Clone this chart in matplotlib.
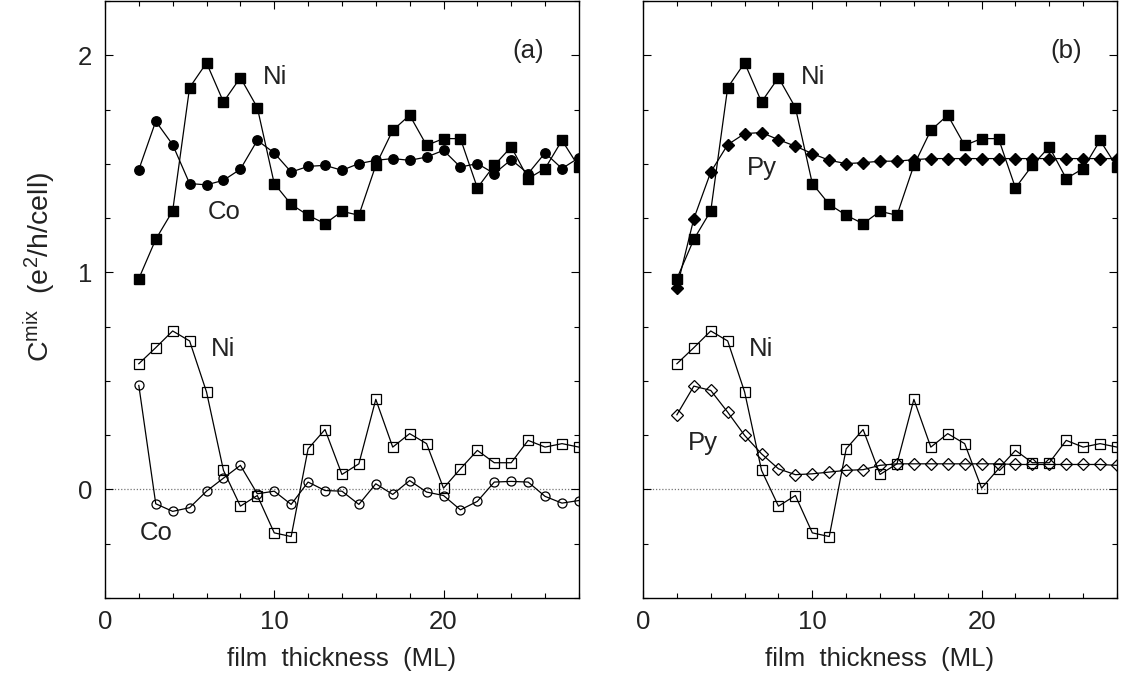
import matplotlib
matplotlib.use("Agg")
import matplotlib.pyplot as plt
from matplotlib.ticker import MultipleLocator
import numpy as np

plt.rcParams['font.family'] = ['Liberation Sans', 'DejaVu Sans']
plt.rcParams['mathtext.default'] = 'regular'

# film thickness in monolayers
thickness = list(range(2, 29))

# total (filled) and minority-type (open) mixing conductance
ni_total = [0.971, 1.152, 1.283, 1.851, 1.965, 1.785, 1.897, 1.759, 1.409, 1.313,
            1.263, 1.224, 1.281, 1.263, 1.493, 1.654, 1.724, 1.585, 1.616, 1.616,
            1.389, 1.493, 1.578, 1.432, 1.478, 1.608, 1.485]
co_total = [1.473, 1.696, 1.588, 1.409, 1.403, 1.424, 1.475, 1.608, 1.550, 1.462,
            1.488, 1.493, 1.470, 1.501, 1.516, 1.524, 1.516, 1.531, 1.562, 1.485,
            1.501, 1.455, 1.519, 1.455, 1.550, 1.478, 1.528]
py_total = [0.929, 1.247, 1.462, 1.588, 1.639, 1.644, 1.611, 1.581, 1.547, 1.516,
            1.501, 1.505, 1.512, 1.512, 1.519, 1.524, 1.524, 1.524, 1.524, 1.524,
            1.524, 1.524, 1.524, 1.524, 1.524, 1.524, 1.524]

ni_open = [0.579, 0.653, 0.730, 0.684, 0.449, 0.088, -0.077, -0.028, -0.200, -0.217,
           0.187, 0.276, 0.069, 0.118, 0.415, 0.195, 0.257, 0.211, 0.006, 0.095,
           0.180, 0.123, 0.123, 0.226, 0.195, 0.211, 0.195]
co_open = [0.479, -0.066, -0.101, -0.084, -0.008, 0.052, 0.111, -0.020, -0.008, -0.069,
           0.034, -0.005, -0.008, -0.069, 0.026, -0.023, 0.041, -0.012, -0.028, -0.094,
           -0.055, 0.034, 0.037, 0.034, -0.032, -0.063, -0.051]
py_open = [0.344, 0.476, 0.456, 0.356, 0.249, 0.164, 0.095, 0.068, 0.072, 0.080,
           0.088, 0.091, 0.111, 0.118, 0.118, 0.118, 0.118, 0.118, 0.118, 0.118,
           0.115, 0.115, 0.115, 0.115, 0.115, 0.115, 0.111]

fig = plt.figure(figsize=(11.25, 6.93), dpi=100)
ax_a = fig.add_axes([0.0933, 0.1371, 0.4213, 0.8615])
ax_b = fig.add_axes([0.5716, 0.1371, 0.4213, 0.8615])

line_kw = dict(color='black', lw=0.9)
FS = 18.5
TXT = '#222222'


def style(ax):
    ax.set_xlim(0, 28)
    ax.set_ylim(-0.5, 2.25)
    ax.xaxis.set_major_locator(MultipleLocator(10))
    ax.xaxis.set_minor_locator(MultipleLocator(2))
    ax.yaxis.set_major_locator(MultipleLocator(1))
    ax.yaxis.set_minor_locator(MultipleLocator(0.25))
    ax.tick_params(which='both', direction='in', top=True, right=True,
                   labelsize=FS, width=0.8, pad=9, labelcolor=TXT)
    ax.tick_params(which='major', length=6)
    ax.tick_params(which='minor', length=3.5)
    for s in ax.spines.values():
        s.set_linewidth(1.0)
    ax.axhline(0, color='#777777', lw=0.9, ls=(0, (1, 1.5)), zorder=1)
    ax.set_xlabel('film  thickness  (ML)', fontsize=FS, labelpad=9, color=TXT)


def label(ax, x, y, s):
    ax.text(x, y, s, fontsize=FS, ha='center', va='center', color=TXT)


# panel (a): Ni and Co
style(ax_a)
ax_a.plot(thickness, ni_total, marker='s', ms=6.8, mfc='black', mec='black', **line_kw)
ax_a.plot(thickness, co_total, marker='o', ms=6.8, mfc='black', mec='black', **line_kw)
ax_a.plot(thickness, ni_open, marker='s', ms=6.5, mfc='none', mec='black', mew=0.9, **line_kw)
ax_a.plot(thickness, co_open, marker='o', ms=6.5, mfc='none', mec='black', mew=0.9, **line_kw)
ax_a.set_ylabel('C$^{mix}$  (e$^{2}$/h/cell)', fontsize=FS + 2, color=TXT)
ax_a.yaxis.set_label_coords(-0.10, 0.555)
label(ax_a, 10.06, 1.90, 'Ni')
label(ax_a, 7.03, 1.278, 'Co')
label(ax_a, 7.0, 0.645, 'Ni')
label(ax_a, 3.0, -0.20, 'Co')
label(ax_a, 25.0, 2.02, '(a)')

# panel (b): Ni and permalloy
style(ax_b)
ax_b.plot(thickness, ni_total, marker='s', ms=6.8, mfc='black', mec='black', **line_kw)
ax_b.plot(thickness, py_total, marker='D', ms=6.0, mfc='black', mec='black', **line_kw)
ax_b.plot(thickness, ni_open, marker='s', ms=6.5, mfc='none', mec='black', mew=0.9, **line_kw)
ax_b.plot(thickness, py_open, marker='D', ms=6.0, mfc='none', mec='black', mew=0.9, **line_kw)
ax_b.tick_params(labelleft=False)
label(ax_b, 10.06, 1.90, 'Ni')
label(ax_b, 7.0, 1.48, 'Py')
label(ax_b, 7.0, 0.645, 'Ni')
label(ax_b, 3.56, 0.215, 'Py')
label(ax_b, 25.0, 2.02, '(b)')

fig.savefig('out.png', dpi=100)
